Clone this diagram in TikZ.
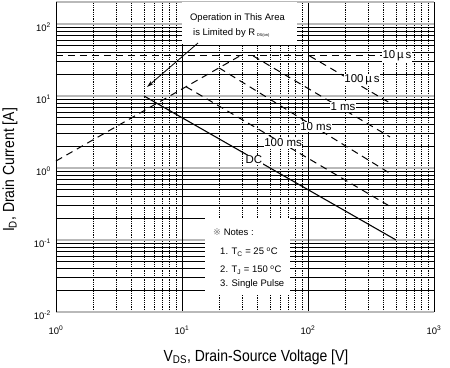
\documentclass[tikz,border=0pt]{standalone}
\usepackage{fontspec}
\setmainfont{Liberation Sans}
\newfontfamily\refmarkfont{DejaVu Sans}
\usepackage{tikz}
\usetikzlibrary{arrows.meta}
\pgfmathsetmacro{\soadecx}{126}
\pgfmathsetmacro{\soadecy}{72}
\pgfmathsetmacro{\soatop}{2.306}
\pgfmathsetmacro{\rdsoffset}{0.097}
\pgfmathsetmacro{\idmlog}{1.556}

\tikzset{
  minor grid/.style={black, line width=0.85bp},
  minor vgrid/.style={black, line width=0.9bp, dash pattern=on 1bp off 0.8bp},
  decade grid/.style={gray!55, line width=1.8bp},
  soa limit/.style={black, line width=1bp, dash pattern=on 7bp off 5bp},
  pulse label/.style={fill=white, inner sep=0.6bp, font=\fontsize{11.5}{12}\selectfont},
  tick label/.style={inner sep=0pt, font=\fontsize{9.5}{10}\selectfont},
  note text/.style={anchor=west, inner sep=0pt, font=\fontsize{9.5}{11}\selectfont},
  axis title/.style={inner sep=0pt, font=\fontsize{14}{15}\selectfont},
  blank box/.style={fill=white, inner sep=0pt, anchor=north west},
}

\begin{document}
\begin{tikzpicture}[x=\soadecx bp, y=\soadecy bp]
    \useasboundingbox (-0.4444,-2.7778) rectangle (3.1270,2.3333);
    % grid
    \foreach \e in {-2,...,1}
        \foreach \m in {2,...,9}
            \draw[minor grid] (0,{\e+log10(\m)}) -- (3,{\e+log10(\m)});
    \foreach \e in {0,1,2}
        \foreach \m in {2,...,9}
            \draw[minor vgrid] ({\e+log10(\m)},-2) -- ({\e+log10(\m)},\soatop);
    \foreach \e in {-1,0,1,2}
        \draw[decade grid] (0,\e) -- (3,\e);
    \foreach \e in {1,2}
        \draw[black, line width=0.9bp] (\e,-2) -- (\e,\soatop);
    % frame
    \draw[decade grid] (0,-2) -- (3,-2);
    \draw[decade grid] (0,\soatop) -- (3,\soatop);
    \draw[black, line width=0.9bp] (0,-2) -- (0,\soatop);
    \draw[black, line width=0.9bp] (3,-2) -- (3,\soatop);
    % white boxes over the grid
    \node[blank box, minimum width=115bp, minimum height=42bp] (rds_box) at (1.0,\soatop) {};
    \node[blank box, minimum width=85bp, minimum height=77bp] (notes_box) at (1.183,-0.694) {};
    % define vertices
    % rds(on) limit
    \coordinate (rds_start) at (0,\rdsoffset);
    \coordinate (rds_peak) at ({\idmlog-\rdsoffset},\idmlog);
    % 10 us
    \coordinate (us10_start) at (0,\idmlog);
    \coordinate (us10_end) at (2.706,\idmlog);
    % 100 us
    \coordinate (us100_start) at (2.013,\idmlog);
    \coordinate (us100_end) at (2.651,0.903);
    % 1 ms
    \coordinate (ms1_start) at (1.565,\idmlog);
    \coordinate (ms1_end) at (2.651,0.431);
    % 10 ms
    \coordinate (ms10_start) at (1.294,1.391);
    \coordinate (ms10_end) at (2.651,-0.075);
    % 100 ms
    \coordinate (ms100_start) at (1.032,1.129);
    \coordinate (ms100_end) at (2.651,-0.533);
    % dc
    \coordinate (dc_start) at (0.699,1);
    \coordinate (dc_end) at (2.699,-1);
    % arrow
    \coordinate (arrow_tail) at (1.127,1.736);
    \coordinate (arrow_head) at (0.722,1.125);
    % draw limits
    \draw[soa limit] (rds_start) -- (rds_peak);
    \draw[soa limit] (us10_start) -- (us10_end);
    \draw[soa limit] (us100_start) -- (us100_end);
    \draw[soa limit] (ms1_start) -- (ms1_end);
    \draw[soa limit] (ms10_start) -- (ms10_end);
    \draw[soa limit] (ms100_start) -- (ms100_end);
    \draw[black, line width=1.1bp] (dc_start) -- (dc_end);
    \draw[black, line width=0.8bp, -{Stealth[length=7bp, width=4bp]}] (arrow_tail) -- (arrow_head);
    % add labels
    \node[pulse label] (us10_label) at (us10_end) {10\,µ\,s};
    \node[pulse label] (us100_label) at (2.429,1.222) {100\,µ\,s};
    \node[pulse label] (ms1_label) at (2.278,0.847) {1 ms};
    \node[pulse label] (ms10_label) at (2.063,0.569) {10 ms};
    \node[pulse label] (ms100_label) at (1.802,0.347) {100 ms};
    \node[pulse label] (dc_label) at (1.571,0.111) {DC};
    \node[note text] (rds_line1) at (1.063,2.083) {Operation in This Area};
    \node[note text] (rds_line2) at (1.087,1.875) {is Limited by R\,\textsubscript{\fontsize{4}{4}\selectfont DS(on)}};
    \node[note text] (notes_title) at (1.246,-0.889) {{\refmarkfont\color{gray}※} Notes :};
    \node[note text] (notes_tc) at (1.302,-1.167) {1. T\textsubscript{C} = 25 \textsuperscript{o}C};
    \node[note text] (notes_tj) at (1.302,-1.417) {2. T\textsubscript{J} = 150 \textsuperscript{o}C};
    \node[note text] (notes_pulse) at (1.302,-1.611) {3. Single Pulse};
    % tick labels
    \foreach \e in {0,1,2,3}
        \node[tick label] (xtick_\e) at (\e,-2.25) {10\textsuperscript{\e}};
    \foreach \e in {-2,...,2}
        \node[tick label, anchor=east] (ytick_\e) at (-0.04,{\e-0.04}) {10\textsuperscript{\e}};
    % axis titles
    \node[axis title] (x_title) at (1.587,-2.625) {\scalebox{1}[1.15]{V\textsubscript{DS}, Drain-Source Voltage [V]}};
    \node[axis title, rotate=90] (y_title) at (-0.365,-0.028) {\scalebox{1}[1.15]{I\textsubscript{D}, Drain Current [A]}};
\end{tikzpicture}
\end{document}
